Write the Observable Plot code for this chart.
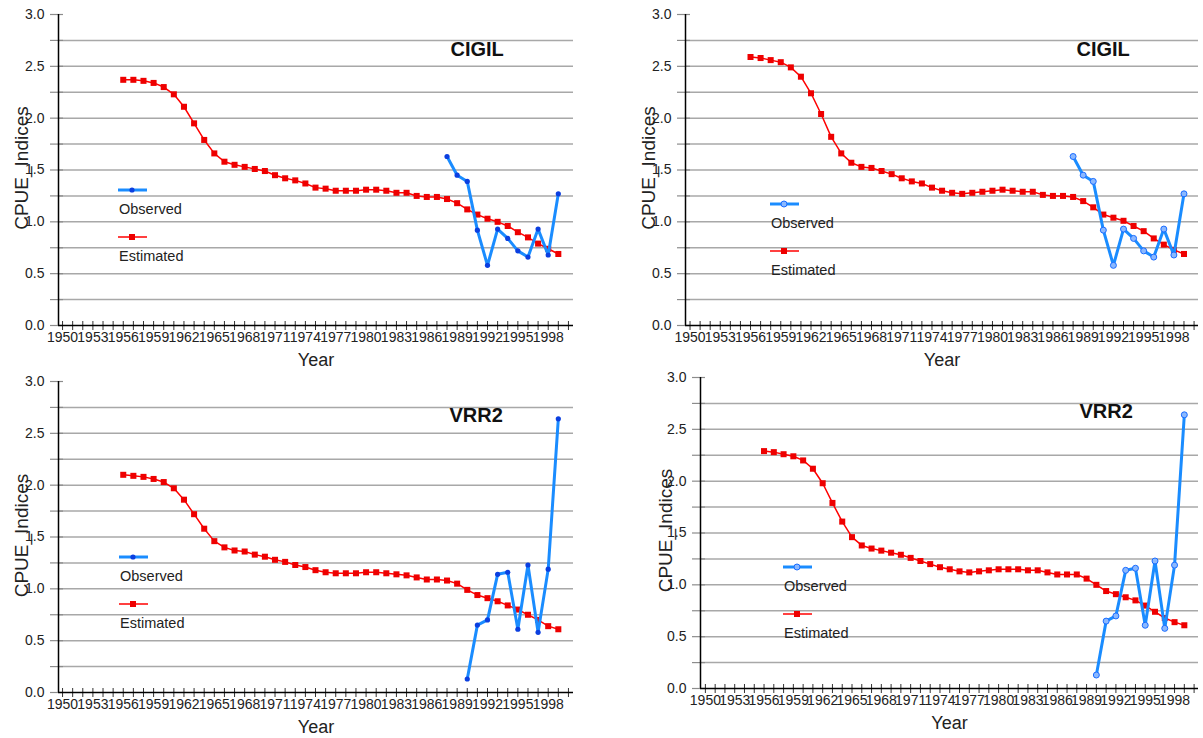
<!DOCTYPE html>
<html><head><meta charset="utf-8">
<script src="https://cdn.jsdelivr.net/npm/d3@7"></script>
<script src="https://cdn.jsdelivr.net/npm/@observablehq/plot@0.6"></script>
<style>
body{margin:0;background:#fff;}
#wrap{position:relative;width:1203px;height:738px;overflow:hidden;background:#fff;font-family:"Liberation Sans",Arial,sans-serif;}
#wrap svg{position:absolute;}
</style></head><body><div id="wrap"></div>
<script>
// ---- data ----
const estYears = [1956,1957,1958,1959,1960,1961,1962,1963,1964,1965,1966,1967,1968,1969,1970,1971,1972,1973,1974,1975,1976,1977,1978,1979,1980,1981,1982,1983,1984,1985,1986,1987,1988,1989,1990,1991,1992,1993,1994,1995,1996,1997,1998,1999];
const cigilEstA = [2.37,2.37,2.36,2.34,2.30,2.23,2.11,1.95,1.79,1.66,1.58,1.55,1.53,1.51,1.49,1.45,1.42,1.40,1.37,1.33,1.32,1.30,1.30,1.30,1.31,1.31,1.30,1.28,1.28,1.25,1.24,1.24,1.22,1.18,1.12,1.07,1.03,1.00,0.96,0.90,0.85,0.79,0.74,0.69];
const cigilEstB = [2.59,2.58,2.56,2.54,2.49,2.40,2.24,2.04,1.82,1.66,1.57,1.53,1.52,1.49,1.46,1.42,1.39,1.37,1.33,1.30,1.28,1.27,1.28,1.29,1.30,1.31,1.30,1.29,1.29,1.26,1.25,1.25,1.24,1.20,1.14,1.07,1.04,1.01,0.96,0.91,0.84,0.78,0.73,0.69];
const vrr2EstA = [2.10,2.09,2.08,2.06,2.03,1.97,1.86,1.72,1.58,1.46,1.40,1.37,1.36,1.33,1.31,1.28,1.26,1.23,1.21,1.18,1.16,1.15,1.15,1.15,1.16,1.16,1.15,1.14,1.13,1.11,1.09,1.09,1.08,1.05,0.99,0.94,0.91,0.88,0.84,0.80,0.75,0.70,0.64,0.61];
const vrr2EstB = [2.29,2.28,2.26,2.24,2.20,2.12,1.98,1.79,1.61,1.46,1.38,1.35,1.33,1.31,1.29,1.26,1.23,1.20,1.17,1.15,1.13,1.12,1.13,1.14,1.15,1.15,1.15,1.14,1.14,1.12,1.10,1.10,1.10,1.06,1.00,0.94,0.91,0.88,0.85,0.80,0.74,0.68,0.64,0.61];
const cigilObsYears = [1988,1989,1990,1991,1992,1993,1994,1995,1996,1997,1998,1999];
const cigilObs = [1.63,1.45,1.39,0.92,0.58,0.93,0.84,0.72,0.66,0.93,0.68,1.27];
const vrr2ObsYears = [1990,1991,1992,1993,1994,1995,1996,1997,1998,1999];
const vrr2Obs = [0.13,0.65,0.70,1.14,1.16,0.61,1.23,0.58,1.19,2.64];
const yearTicks = [1950,1951,1952,1953,1954,1955,1956,1957,1958,1959,1960,1961,1962,1963,1964,1965,1966,1967,1968,1969,1970,1971,1972,1973,1974,1975,1976,1977,1978,1979,1980,1981,1982,1983,1984,1985,1986,1987,1988,1989,1990,1991,1992,1993,1994,1995,1996,1997,1998,1999,2000];
const yearLabels = [1950,1953,1956,1959,1962,1965,1968,1971,1974,1977,1980,1983,1986,1989,1992,1995,1998];
const yGrid = [0.25,0.5,0.75,1.0,1.25,1.5,1.75,2.0,2.25,2.5,2.75];
const yTicks = [0,0.25,0.5,0.75,1.0,1.25,1.5,1.75,2.0,2.25,2.5,2.75,3.0];
const yLabels = [0,0.5,1.0,1.5,2.0,2.5,3.0];
const seriesNames = ["Observed","Estimated"];

// ---- layout ----
const panels = [
  {title:"CIGIL", est:cigilEstA, obsYears:cigilObsYears, obs:cigilObs, hollow:false,
   left:0, top:0, width:600, height:368, mL:58, mR:27, mT:14, mB:43, xd:[1949.6,2000.5],
   titleDx:392, titleDy:41, cpueDx:-31, cpueDy:-2, legX:118, legY:190},
  {title:"CIGIL", est:cigilEstB, obsYears:cigilObsYears, obs:cigilObs, hollow:true,
   left:600, top:0, width:603, height:368, mL:85, mR:5, mT:14, mB:43, xd:[1949.55,2000.44],
   titleDx:391, titleDy:41, cpueDx:-31, cpueDy:-2, legX:170, legY:204},
  {title:"VRR2", est:vrr2EstA, obsYears:vrr2ObsYears, obs:vrr2Obs, hollow:false,
   left:0, top:368, width:600, height:370, mL:58, mR:27, mT:13, mB:46, xd:[1949.6,2000.5],
   titleDx:391, titleDy:40, cpueDx:-31, cpueDy:-1.5, legX:119, legY:189},
  {title:"VRR2", est:vrr2EstB, obsYears:vrr2ObsYears, obs:vrr2Obs, hollow:true,
   left:600, top:368, width:603, height:370, mL:100, mR:5, mT:9, mB:50, xd:[1949.5,2000.45],
   titleDx:379, titleDy:40, cpueDx:-29, cpueDy:-2.5, legX:183, legY:199}
];

const FONT = '"Liberation Sans", Arial, sans-serif';
const BLUE = "#1a8cff", RED = "#ff0000";
const wrap = document.getElementById("wrap");

function obsDot(p, data){
  return p.hollow
    ? Plot.dot(data, {x:"x", y:"y", r:3, fill:"#8ab8ff", stroke:"#1a6cff", strokeWidth:1})
    : Plot.dot(data, {x:"x", y:"y", r:2.6, fill:"#0b3fe0", stroke:"none"});
}

panels.forEach(p => {
  const est = estYears.map((x,i)=>({x, y:p.est[i]}));
  const obs = p.obsYears.map((x,i)=>({x, y:p.obs[i]}));
  const svg = Plot.plot({
    width:p.width, height:p.height,
    marginLeft:p.mL, marginRight:p.mR, marginTop:p.mT, marginBottom:p.mB,
    style:{fontFamily:FONT, background:"transparent", overflow:"visible"},
    x:{domain:p.xd, axis:null},
    y:{domain:[0,3], axis:null},
    marks:[
      Plot.gridY({ticks:yGrid, stroke:"#a8a8a8", strokeOpacity:1, strokeWidth:1.5}),
      Plot.axisY({ticks:yTicks, tickSize:13, dx:5, tickFormat:()=>"", label:null, stroke:"#8c8c8c", strokeWidth:1.2}),
      Plot.axisY({ticks:yLabels, tickSize:0, tickPadding:14, tickFormat:d=>d.toFixed(1), label:null, fontSize:14, fill:"#222"}),
      Plot.axisX({ticks:yearTicks, tickSize:9, dy:-4, tickFormat:()=>"", label:null, stroke:"#333"}),
      Plot.axisX({ticks:yearLabels, tickSize:0, tickPadding:7, tickFormat:d=>String(d), label:null, fontSize:14, fill:"#222"}),
      Plot.ruleX([p.xd[0]], {y1:0, y2:3, stroke:"#000", strokeWidth:1.5}),
      Plot.ruleY([0], {stroke:"#000", strokeWidth:1.5}),
      Plot.line(est, {x:"x", y:"y", stroke:RED, strokeWidth:1.5}),
      Plot.dot(est, {x:"x", y:"y", symbol:"square", r:3.4, fill:"#ee0000", stroke:"none"}),
      Plot.line(obs, {x:"x", y:"y", stroke:BLUE, strokeWidth:3}),
      obsDot(p, obs),
      Plot.text([p.title], {frameAnchor:"top-left", dx:p.titleDx, dy:p.titleDy, textAnchor:"start", lineAnchor:"bottom", fontSize:20, fontWeight:"bold", fill:"#111"}),
      Plot.text(["Year"], {frameAnchor:"bottom", dy:40, textAnchor:"middle", lineAnchor:"bottom", fontSize:18, fill:"#222"}),
      Plot.text(["CPUE_Indices"], {frameAnchor:"left", dx:p.cpueDx, dy:p.cpueDy, rotate:-90, textAnchor:"middle", lineAnchor:"bottom", fontSize:19, fill:"#222"})
    ]
  });
  svg.style.left = p.left + "px";
  svg.style.top = p.top + "px";
  // legend
  const g = d3.select(svg).append("g").attr("font-family", FONT).attr("text-anchor","start");
  const lx = p.legX, ly = p.legY;
  g.append("line").attr("x1",lx).attr("x2",lx+29).attr("y1",ly).attr("y2",ly).attr("stroke",BLUE).attr("stroke-width",3);
  if (p.hollow) g.append("circle").attr("cx",lx+14).attr("cy",ly).attr("r",3).attr("fill","#8ab8ff").attr("stroke","#1a6cff");
  else g.append("circle").attr("cx",lx+14).attr("cy",ly).attr("r",2.6).attr("fill","#0b3fe0");
  g.append("text").attr("x",lx+1).attr("y",ly+24).attr("font-size",14.5).attr("fill","#222").attr("text-anchor","start").text(seriesNames[0]);
  g.append("line").attr("x1",lx).attr("x2",lx+29).attr("y1",ly+47).attr("y2",ly+47).attr("stroke",RED).attr("stroke-width",1.5);
  g.append("rect").attr("x",lx+11).attr("y",ly+44).attr("width",6).attr("height",6).attr("fill","#ee0000");
  g.append("text").attr("x",lx+1).attr("y",ly+71).attr("font-size",14.5).attr("fill","#222").attr("text-anchor","start").text(seriesNames[1]);
  wrap.appendChild(svg);
});
</script>
</body></html>
